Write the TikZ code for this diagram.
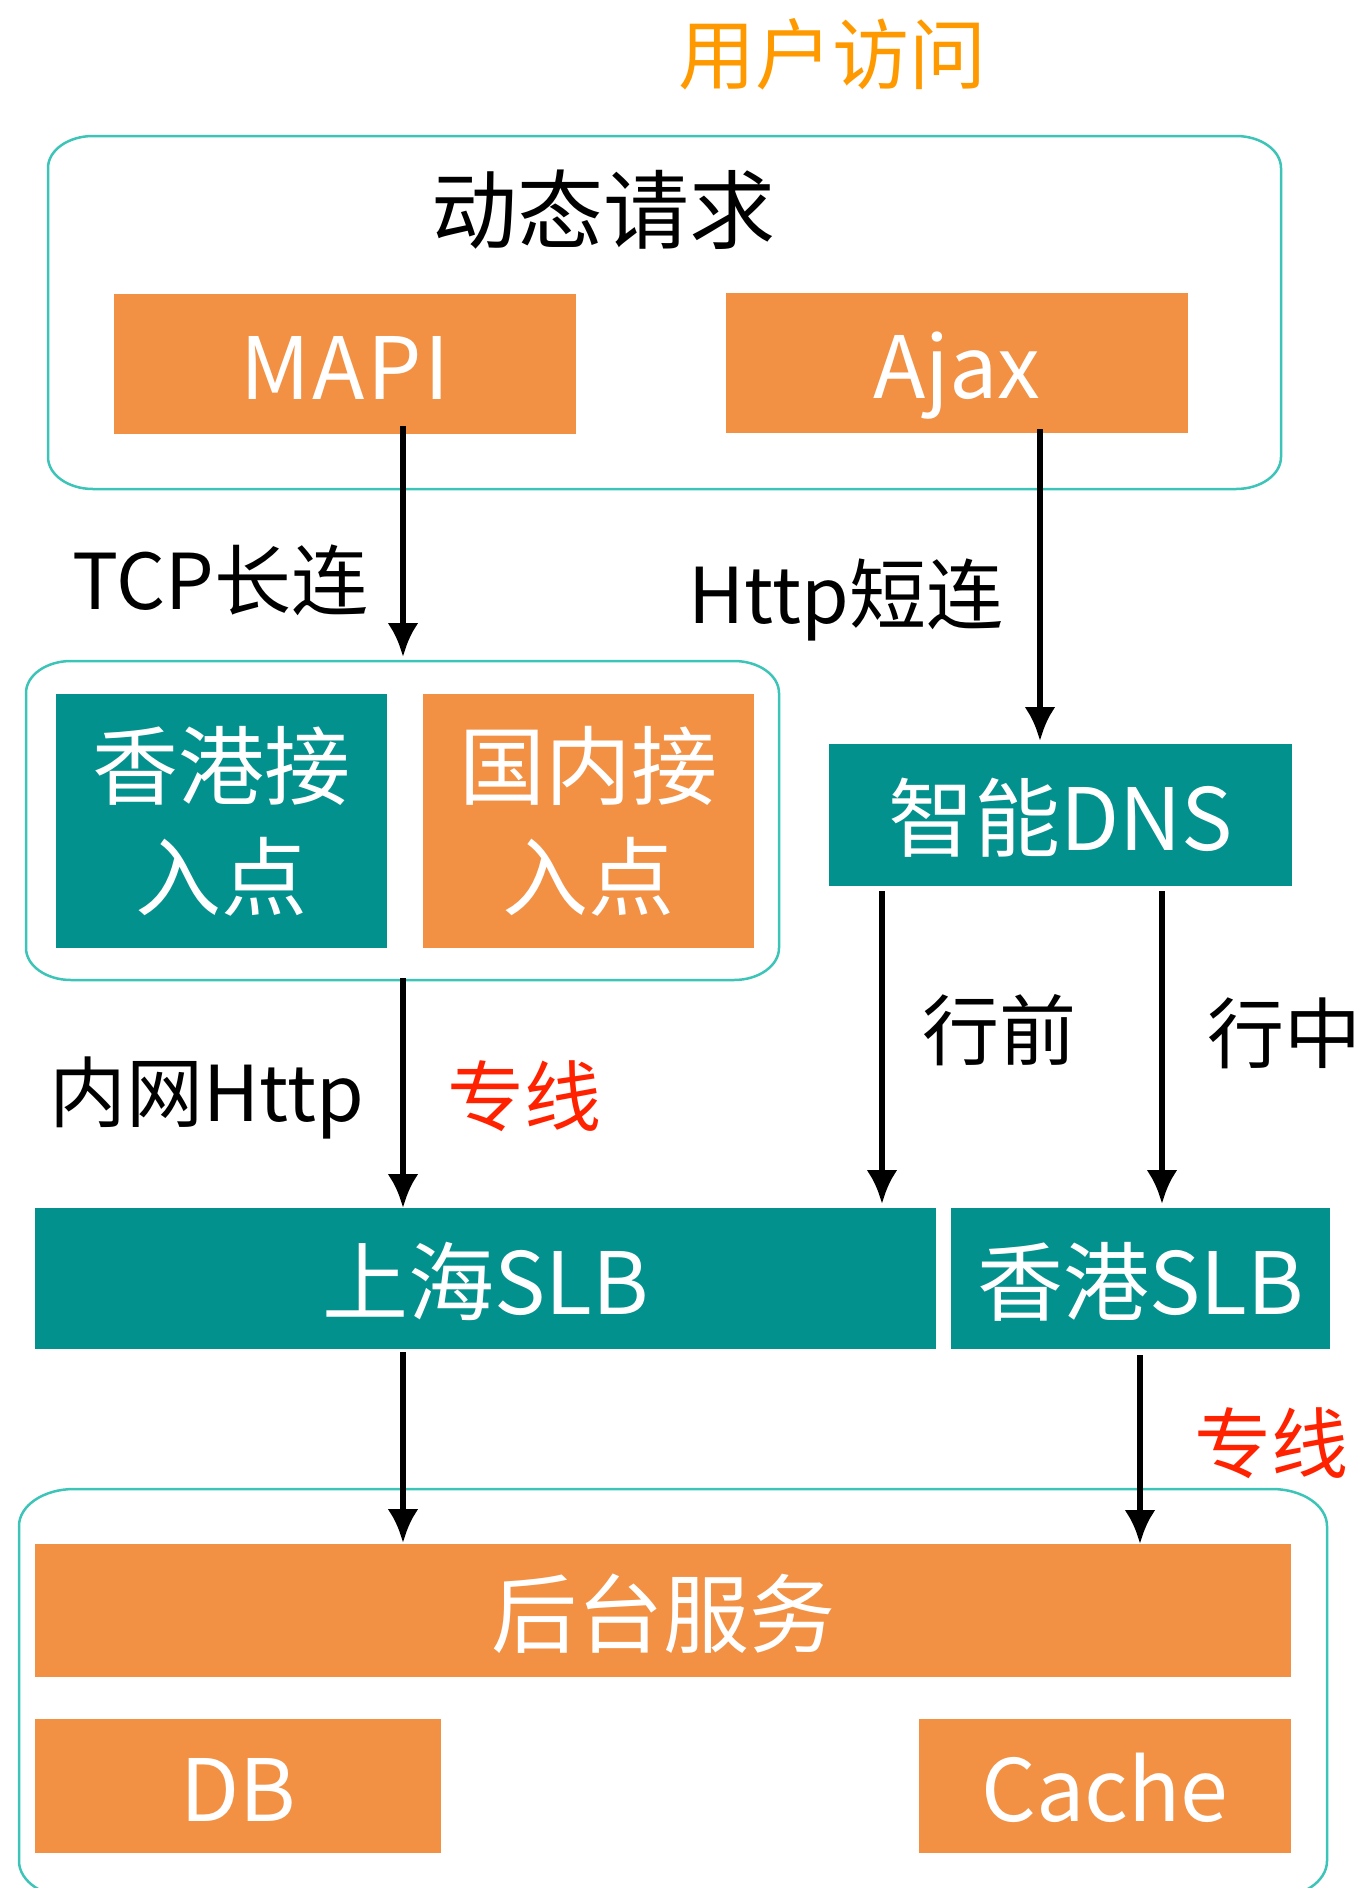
\documentclass[tikz,border=0pt]{standalone}
\usepackage{fontspec}
\setmainfont{Noto Sans CJK SC}
\usetikzlibrary{arrows.meta}
\definecolor{orng}{HTML}{F29144}
\definecolor{tealbox}{HTML}{03918E}
\definecolor{grpline}{HTML}{3CC4B8}
\definecolor{titleorange}{HTML}{FF9900}
\definecolor{redlabel}{HTML}{FF2200}
\newcommand\ovalframe[3]{%
  \draw[grpstroke] ([xshift=#2]#1.north west) -- ([xshift=-#2]#1.north east)
    arc[start angle=270,end angle=360,x radius=#2,y radius=#3]
    -- ([yshift=#3]#1.south east)
    arc[start angle=0,end angle=90,x radius=#2,y radius=#3]
    -- ([xshift=#2]#1.south west)
    arc[start angle=90,end angle=180,x radius=#2,y radius=#3]
    -- ([yshift=-#3]#1.north west)
    arc[start angle=180,end angle=270,x radius=#2,y radius=#3] -- cycle;}
\begin{document}
\begin{tikzpicture}[x=1pt,y=-1pt,
  bigfont/.style={font=\fontsize{86}{111}\selectfont},
  labfont/.style={font=\fontsize{77}{90}\selectfont},
  bigtxt/.style={bigfont,text height=75.7pt,text depth=10.3pt},
  obox/.style={rectangle,fill=orng,text=white,inner sep=0pt,outer sep=0pt,bigfont,align=center},
  tbox/.style={rectangle,fill=tealbox,text=white,inner sep=0pt,outer sep=0pt,bigfont,align=center},
  oneline/.style={text height=78.7pt,text depth=7.3pt},
  grp/.style={rectangle,inner sep=0pt,outer sep=0pt},
  grpstroke/.style={draw=grpline,line width=2.5pt},
  arr/.style={line width=6.5pt,-{Latex[length=34pt,width=31pt]}},
  lab/.style={inner sep=0pt,outer sep=0pt,labfont,text height=67.8pt,text depth=9.2pt}
]
\useasboundingbox (0,0) rectangle (1369,1888);
% groups
\node[grp,minimum width=1233pt,minimum height=353pt] (g1) at (664.5,312.5) {};
\node[grp,minimum width=753pt,minimum height=319pt] (g2) at (402.5,820.5) {};
\node[grp,minimum width=1308pt,minimum height=409pt] (g3) at (673,1693.5) {};
\ovalframe{g1}{45}{32}
\ovalframe{g2}{45}{32}
\ovalframe{g3}{55}{37}
% title
\node[lab,text=titleorange] (title) at (832,54) {用户访问};
\node[inner sep=0pt,bigtxt] (dyn) at (603,210) {动态请求};
% boxes
\node[obox,oneline,minimum width=462pt,minimum height=140pt] (mapi) at (345,364) {\addfontfeature{LetterSpace=3}MAPI};
\node[obox,oneline,minimum width=462pt,minimum height=140pt] (ajax) at (957,363) {Ajax};
\node[tbox,minimum width=331pt,minimum height=254pt] (hkin) at (221.5,821) {香港接\\入点};
\node[obox,minimum width=331pt,minimum height=254pt] (cnin) at (588.5,821) {国内接\\入点};
\node[tbox,oneline,minimum width=463pt,minimum height=142pt] (dns) at (1060.5,815) {智能DNS};
\node[tbox,oneline,minimum width=901pt,minimum height=141pt] (shslb) at (485.5,1278.5) {上海SLB};
\node[tbox,oneline,minimum width=379pt,minimum height=141pt] (hkslb) at (1140.5,1278.5) {香港SLB};
\node[obox,oneline,minimum width=1256pt,minimum height=133pt] (backend) at (663,1610.5) {后台服务};
\node[obox,oneline,minimum width=406pt,minimum height=134pt] (db) at (238,1786) {DB};
\node[obox,oneline,minimum width=372pt,minimum height=134pt] (cache) at (1105,1786) {Cache};
% labels
\node[lab] (tcp) at (220,580) {TCP长连};
\node[lab] (http) at (846,594) {Http短连};
\node[lab] (inner) at (207,1092) {内网Http};
\node[lab,text=redlabel] (zx1) at (524,1096) {专线};
\node[lab] (xq) at (999,1030) {行前};
\node[lab] (xz) at (1284,1033) {行中};
\node[lab,text=redlabel] (zx2) at (1271,1443) {专线};
% arrow x positions
\coordinate (xa) at (403,0);
\coordinate (xb) at (1040,0);
\coordinate (xc) at (882,0);
\coordinate (xd) at (1162,0);
\coordinate (xe) at (1140,0);
% arrows
\draw[arr] ([yshift=8pt]mapi.south -| xa) -- ([yshift=4pt]g2.north -| xa);
\draw[arr] ([yshift=4pt]ajax.south -| xb) -- ([yshift=3pt]dns.north -| xb);
\draw[arr] ([yshift=2pt]g2.south -| xa) -- (shslb.north -| xa);
\draw[arr] ([yshift=-5pt]dns.south -| xc) -- ([yshift=4pt]shslb.north -| xc);
\draw[arr] ([yshift=-5pt]dns.south -| xd) -- ([yshift=4pt]hkslb.north -| xd);
\draw[arr] ([yshift=-3pt]shslb.south -| xa) -- ([yshift=1pt]backend.north -| xa);
\draw[arr] ([yshift=-6pt]hkslb.south -| xe) -- (backend.north -| xe);
\end{tikzpicture}
\end{document}
